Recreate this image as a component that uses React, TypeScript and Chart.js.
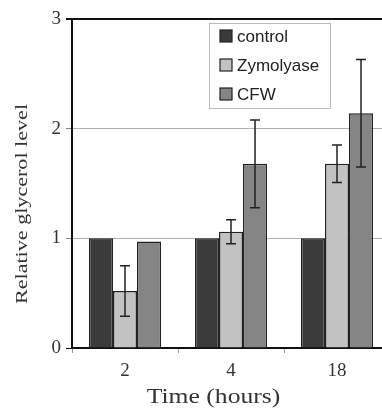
import React, { useEffect, useRef } from "react";
import { Chart, registerables } from "chart.js";

Chart.register(...registerables);

const categories = ["2", "4", "18"];
const seriesNames = ["control", "Zymolyase", "CFW"];
const controlValues = [1, 1, 1];
const zymolyaseValues = [0.52, 1.06, 1.68];
const cfwValues = [0.97, 1.68, 2.14];
const controlErrors = [0, 0, 0];
const zymolyaseErrors = [0.23, 0.11, 0.17];
const cfwErrors = [0, 0.4, 0.49];
const yTicks = [0, 1, 2, 3];
const xTitle = "Time (hours)";
const yTitle = "Relative glycerol level";
const colors = ["#3b3b3b", "#c2c2c2", "#858585"];

const SERIF = "'Liberation Serif', 'Times New Roman', serif";

const errorBarPlugin = {
  id: "errorBars",
  afterDatasetsDraw(chart: any) {
    const { ctx } = chart;
    const yScale = chart.scales.y;
    ctx.save();
    ctx.strokeStyle = "#222";
    ctx.lineWidth = 1.5;
    chart.data.datasets.forEach((ds: any, di: number) => {
      const meta = chart.getDatasetMeta(di);
      const errs = ds.errors as number[];
      meta.data.forEach((bar: any, i: number) => {
        const e = errs[i];
        if (!e) return;
        const v = ds.data[i];
        const x = bar.x;
        const yTop = yScale.getPixelForValue(v + e);
        const yBot = yScale.getPixelForValue(v - e);
        const cap = 5;
        ctx.beginPath();
        ctx.moveTo(x, yTop);
        ctx.lineTo(x, yBot);
        ctx.moveTo(x - cap, yTop);
        ctx.lineTo(x + cap, yTop);
        ctx.moveTo(x - cap, yBot);
        ctx.lineTo(x + cap, yBot);
        ctx.stroke();
      });
    });
    ctx.restore();
  },
};

const legendPlugin = {
  id: "insideLegend",
  afterDraw(chart: any) {
    const { ctx } = chart;
    ctx.save();
    const bx = 209, by = 23, bw = 121, bh = 85;
    ctx.fillStyle = "#ffffff";
    ctx.fillRect(bx, by, bw, bh);
    ctx.strokeStyle = "#bbbbbb";
    ctx.lineWidth = 1;
    ctx.strokeRect(bx + 0.5, by + 0.5, bw, bh);
    ctx.font = "17px 'Liberation Sans', Arial, sans-serif";
    ctx.textBaseline = "middle";
    chart.data.datasets.forEach((ds: any, i: number) => {
      const cy = 36 + i * 29;
      ctx.fillStyle = ds.backgroundColor;
      ctx.fillRect(220, cy - 6, 12, 12);
      ctx.strokeStyle = "#222";
      ctx.lineWidth = 1.2;
      ctx.strokeRect(220, cy - 6, 12, 12);
      ctx.fillStyle = "#222";
      ctx.fillText(ds.label, 237, cy + 1);
    });
    ctx.restore();
  },
};

const titlesPlugin = {
  id: "axisTitles",
  afterDraw(chart: any) {
    const { ctx } = chart;
    ctx.save();
    ctx.fillStyle = "#333";
    ctx.textAlign = "center";
    ctx.textBaseline = "middle";
    ctx.font = `17px ${SERIF}`;
    ctx.translate(23, 204);
    ctx.rotate(-Math.PI / 2);
    ctx.scale(1.3, 1);
    ctx.fillText(yTitle, 0, 0);
    ctx.restore();

    ctx.save();
    ctx.fillStyle = "#333";
    ctx.textAlign = "center";
    ctx.textBaseline = "alphabetic";
    ctx.font = `21px ${SERIF}`;
    ctx.translate(213.5, 403);
    ctx.scale(1.22, 1);
    ctx.fillText(xTitle, 0, 0);
    ctx.restore();
  },
};

export default function App() {
  const ref = useRef<HTMLCanvasElement | null>(null);
  useEffect(() => {
    document.body.style.margin = "0";
    document.body.style.overflow = "hidden";
    const errs = [controlErrors, zymolyaseErrors, cfwErrors];
    const vals = [controlValues, zymolyaseValues, cfwValues];
    const chart = new Chart(ref.current as HTMLCanvasElement, {
      type: "bar",
      data: {
        labels: categories,
        datasets: seriesNames.map((name, i) => ({
          label: name,
          data: vals[i],
          errors: errs[i],
          backgroundColor: colors[i],
          borderColor: "#222",
          borderWidth: 1.5,
          barPercentage: 1,
          categoryPercentage: 0.68,
        })) as any,
      },
      options: {
        responsive: false,
        animation: false,
        layout: { padding: { top: 19, right: 2, left: 0, bottom: 0 } },
        plugins: {
          legend: { display: false },
          tooltip: { enabled: false },
        },
        scales: {
          x: {
            offset: true,
            afterFit: (scale: any) => {
              scale.height = 60;
            },
            grid: {
              offset: true,
              drawOnChartArea: false,
              tickLength: 5,
              color: "#999",
            },
            border: { color: "#111", width: 2 },
            ticks: {
              color: "#333",
              font: { family: SERIF, size: 19 },
              padding: 7,
            },
          },
          y: {
            min: 0,
            max: 3,
            afterBuildTicks: (scale: any) => {
              scale.ticks = yTicks.map((v) => ({ value: v }));
            },
            afterFit: (scale: any) => {
              scale.width = 72;
            },
            grid: {
              color: (c: any) => (c.tick && c.tick.value === 3 ? "#111" : "#b0b0b0"),
              lineWidth: (c: any) => (c.tick && c.tick.value === 3 ? 2 : 1),
              tickColor: (c: any) => (c.tick && (c.tick.value === 3 || c.tick.value === 0) ? "#111" : "#888"),
              tickLength: 6,
            },
            border: { color: "#111", width: 2 },
            ticks: {
              color: "#333",
              font: { family: SERIF, size: 19 },
              padding: 5,
            },
          },
        },
      },
      plugins: [errorBarPlugin, legendPlugin, titlesPlugin],
    });
    return () => chart.destroy();
  }, []);
  return (
    <div style={{ width: 382, height: 408, overflow: "hidden" }}>
      <canvas ref={ref} width={392} height={408} style={{ display: "block" }} />
    </div>
  );
}
